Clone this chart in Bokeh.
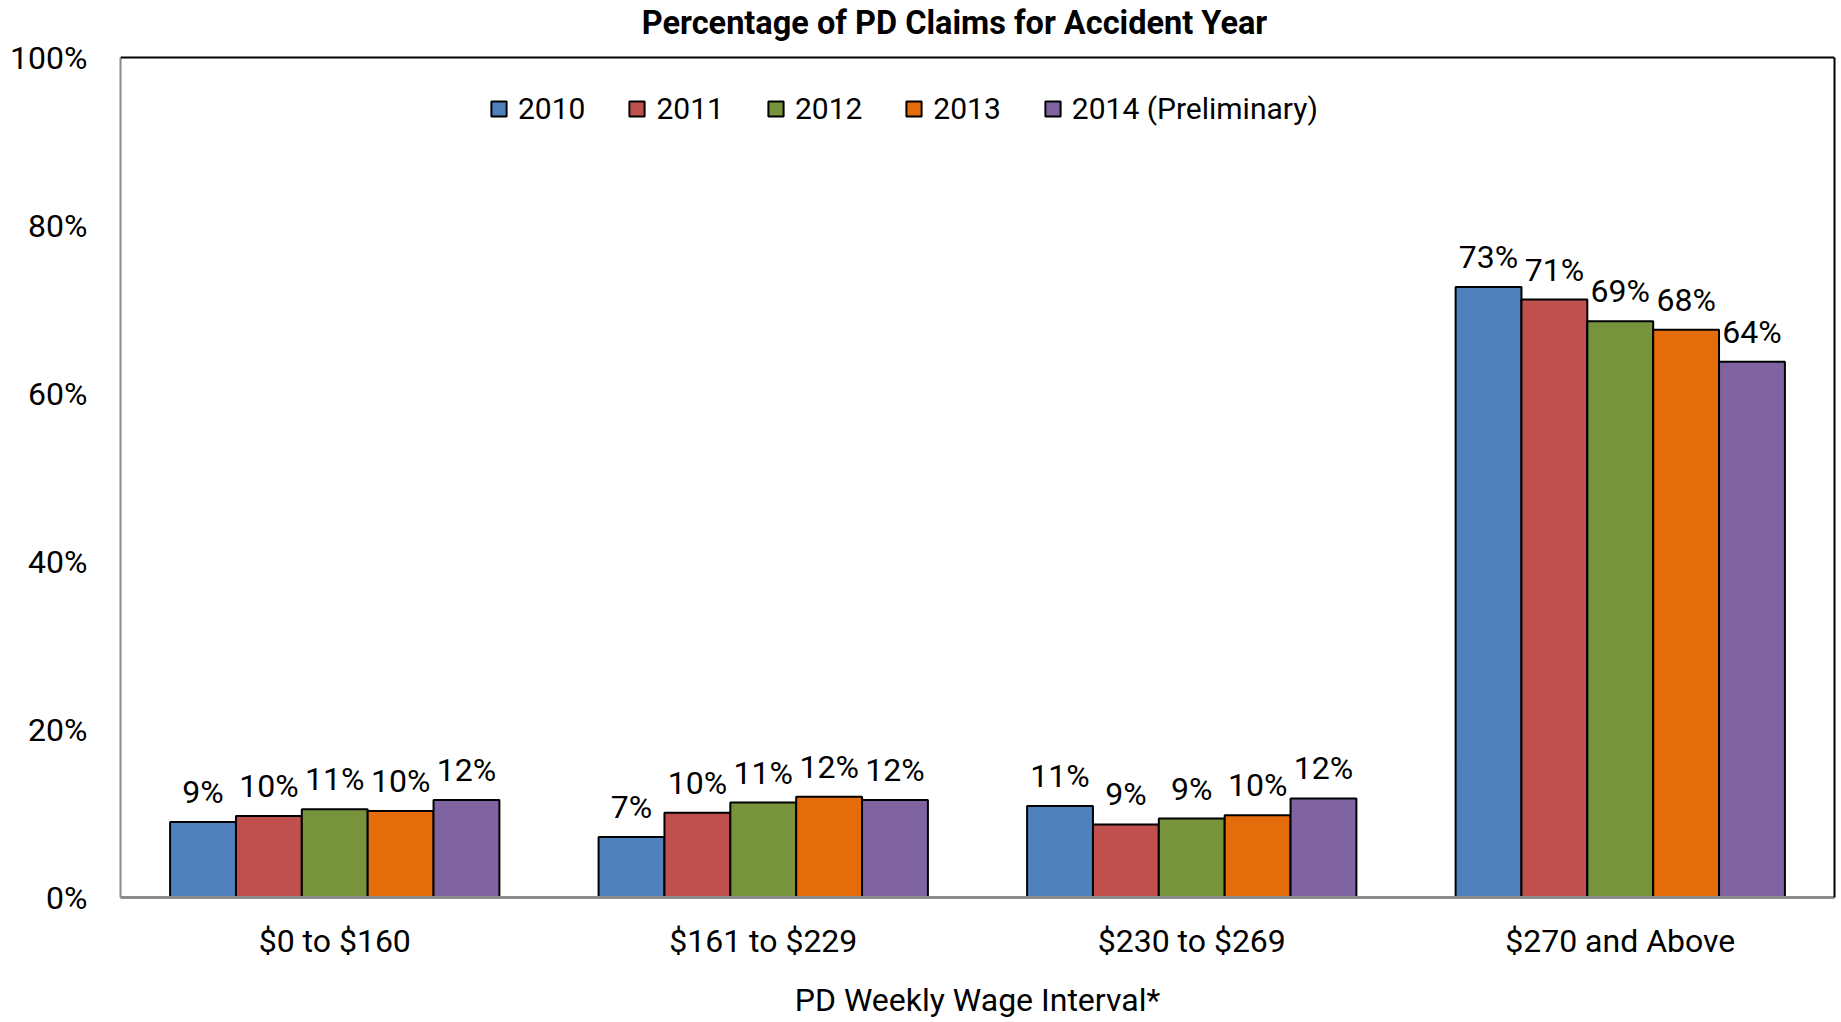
from bokeh.plotting import figure
from bokeh.models import (ColumnDataSource, FactorRange, Range1d, LabelSet, Label, Legend, LegendItem,
                          PrintfTickFormatter, FixedTicker, Span, LinearAxis)
from bokeh.core.properties import value
from bokeh.transform import dodge
from bokeh.embed import file_html
from bokeh.resources import INLINE

categories = ["$0 to $160", "$161 to $229", "$230 to $269", "$270 and Above"]
years = ["2010", "2011", "2012", "2013", "2014 (Preliminary)"]
v2010 = [9.0, 7.2, 10.9, 72.7]
v2011 = [9.7, 10.1, 8.7, 71.2]
v2012 = [10.5, 11.3, 9.4, 68.6]
v2013 = [10.3, 12.0, 9.8, 67.6]
v2014 = [11.6, 11.6, 11.8, 63.8]
series = [v2010, v2011, v2012, v2013, v2014]
colors = ["#4F81BD", "#C0504D", "#77933C", "#E46C0A", "#8064A2"]
y_ticks = [0, 20, 40, 60, 80, 100]
title_text = "Percentage of PD Claims for Accident Year"

FONT = "Roboto"

# frame spans the full height above the axis; the value axis itself is bounded to 0-100
p = figure(width=1836, height=1021, x_range=FactorRange(*categories, range_padding=0),
           y_range=Range1d(0, 106.8), output_backend="svg", toolbar_location=None,
           min_border_left=120, min_border_right=2, min_border_top=0, min_border_bottom=110)

p.outline_line_color = None
p.xgrid.grid_line_color = None
p.ygrid.grid_line_color = None

# chart title
p.add_layout(Label(x=834, y=875, x_units="screen", y_units="screen", text=title_text,
                   text_align="center", text_baseline="middle", text_font=FONT,
                   text_font_size="32.5px", text_font_style="bold", text_color="black"))

bar_w = 0.1537
offsets = [-2 * bar_w, -bar_w, 0, bar_w, 2 * bar_w]
items = []
for yr, vals, col, off in zip(years, series, colors, offsets):
    src = ColumnDataSource(dict(cat=categories, val=vals,
                                lab=[f"{int(v + 0.5)}%" for v in vals]))
    r = p.vbar(x=dodge("cat", off, range=p.x_range), top="val", width=bar_w, source=src,
               fill_color=col, line_color="black", line_width=2)
    items.append(LegendItem(label=yr, renderers=[r]))
    lbl = LabelSet(x=dodge("cat", off, range=p.x_range), y="val", text="lab", source=src,
                   text_align="center", text_baseline="alphabetic", y_offset=19,
                   text_font=value(FONT), text_font_size=value("32px"), text_color="black")
    p.add_layout(lbl)

legend = Legend(items=items, orientation="horizontal", location=(369, 771),
                glyph_width=19, glyph_height=19, label_standoff=10, spacing=42,
                padding=0, margin=0, border_line_color=None, background_fill_alpha=0,
                label_text_font=FONT, label_text_font_size="30px", label_text_color="black")
p.add_layout(legend, "center")

# y axis
p.yaxis.bounds = (0, 100)
p.yaxis.ticker = FixedTicker(ticks=y_ticks)
p.yaxis.formatter = PrintfTickFormatter(format="%d%%")
p.yaxis.major_tick_line_color = None
p.yaxis.minor_tick_line_color = None
p.yaxis.major_tick_out = 0
p.yaxis.major_label_standoff = 33
p.yaxis.axis_line_color = "#8C8C8C"
p.yaxis.axis_line_width = 2
p.yaxis.major_label_text_font = FONT
p.yaxis.major_label_text_font_size = "32px"
p.yaxis.major_label_text_color = "black"

# right border of the plot area
right = LinearAxis(bounds=(0, 100), ticker=FixedTicker(ticks=[]), major_tick_line_color=None,
                   minor_tick_line_color=None, major_tick_out=0, major_label_standoff=0,
                   axis_line_color="black", axis_line_width=2)
p.add_layout(right, "right")

# x axis
p.xaxis.major_tick_line_color = None
p.xaxis.major_tick_out = 0
p.xaxis.major_label_standoff = 24
p.xaxis.axis_line_color = "#8C8C8C"
p.xaxis.axis_line_width = 3
p.xaxis.major_label_text_font = FONT
p.xaxis.major_label_text_font_size = "32px"
p.xaxis.major_label_text_color = "black"
p.xaxis.axis_label = "PD Weekly Wage Interval*"
p.xaxis.axis_label_text_font = FONT
p.xaxis.axis_label_text_font_size = "32px"
p.xaxis.axis_label_text_font_style = "normal"
p.xaxis.axis_label_text_color = "black"
p.xaxis.axis_label_standoff = 18

# top border of the plot area
p.add_layout(Span(location=100, dimension="width", line_color="black", line_width=2))

open("out.html", "w").write(file_html(p, INLINE))
